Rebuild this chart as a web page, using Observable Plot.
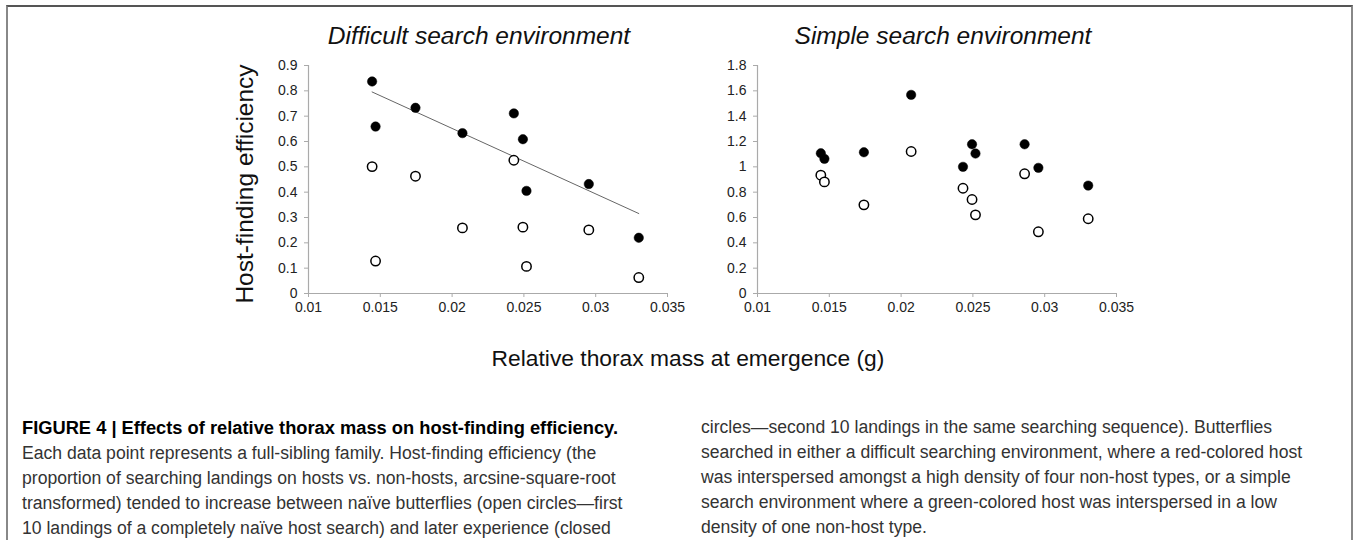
<!DOCTYPE html>
<html>
<head>
<meta charset="utf-8">
<script src="https://cdn.jsdelivr.net/npm/d3@7"></script>
<script src="https://cdn.jsdelivr.net/npm/@observablehq/plot@0.6"></script>
<style>
  html, body { margin: 0; padding: 0; background: #fff; }
  #fig { position: relative; width: 1357px; height: 540px; overflow: hidden; font-family: "Liberation Sans", Arial, sans-serif; }
  #frame { position: absolute; left: 6px; top: 5px; width: 1347px; height: 600px; border-top: 2px solid #555; border-left: 2px solid #888; border-right: 2px solid #888; box-sizing: border-box; }
  .title { position: absolute; width: 420px; margin-left: -210px; text-align: center; font-style: italic; font-size: 24.5px; line-height: 24px; color: #111; white-space: nowrap; }
  #ylab { position: absolute; left: 245px; top: 184px; transform: translate(-50%, -50%) rotate(-90deg); font-size: 24.5px; line-height: 24px; color: #111; white-space: nowrap; }
  #xlab { position: absolute; left: 688px; top: 347px; transform: translateX(-50%); font-size: 22.8px; line-height: 22px; color: #111; white-space: nowrap; }
  .plot { position: absolute; top: 50px; }
  .cap { position: absolute; top: 415px; font-size: 17.6px; line-height: 25px; color: #333; white-space: nowrap; }
  .cap b { color: #000; font-size: 18.3px; }
</style>
</head>
<body>
<div id="fig">
  <div id="frame"></div>
  <div class="title" id="t1"></div>
  <div class="title" id="t2"></div>
  <div id="ylab"></div>
  <div id="xlab"></div>
  <div class="plot" id="p1"></div>
  <div class="plot" id="p2"></div>
  <div class="cap" id="c1"></div>
  <div class="cap" id="c2"></div>
</div>
<script>
// ---- data ----
const titles = ["Difficult search environment", "Simple search environment"];
const yLabel = "Host-finding efficiency";
const xLabel = "Relative thorax mass at emergence (g)";

const massDifficult = [0.01443, 0.01467, 0.01745, 0.02072, 0.0243, 0.02493, 0.02518, 0.02952, 0.033];
const difficultNaive = [0.501, 0.128, 0.463, 0.259, 0.526, 0.262, 0.107, 0.251, 0.063];
const difficultExperienced = [0.837, 0.659, 0.733, 0.633, 0.711, 0.609, 0.405, 0.432, 0.220];

const massSimple = [0.01441, 0.01466, 0.01741, 0.0207, 0.02431, 0.02494, 0.02518, 0.0286, 0.02956, 0.03303];
const simpleNaive = [0.934, 0.881, 0.700, 1.121, 0.831, 0.742, 0.621, 0.945, 0.487, 0.590];
const simpleExperienced = [1.107, 1.063, 1.115, 1.568, 1.000, 1.178, 1.105, 1.178, 0.992, 0.852];

const xTicks = [0.01, 0.015, 0.02, 0.025, 0.03, 0.035];
const yTicksDifficult = [0, 0.1, 0.2, 0.3, 0.4, 0.5, 0.6, 0.7, 0.8, 0.9];
const yTicksSimple = [0, 0.2, 0.4, 0.6, 0.8, 1, 1.2, 1.4, 1.6, 1.8];

const captionLeft = [
  "<b>FIGURE 4 | Effects of relative thorax mass on host-finding efficiency.</b>",
  "Each data point represents a full-sibling family. Host-finding efficiency (the",
  "proportion of searching landings on hosts vs. non-hosts, arcsine-square-root",
  "transformed) tended to increase between naïve butterflies (open circles—first",
  "10 landings of a completely naïve host search) and later experience (closed"
];
const captionRight = [
  "circles—second 10 landings in the same searching sequence). Butterflies",
  "searched in either a difficult searching environment, where a red-colored host",
  "was interspersed amongst a high density of four non-host types, or a simple",
  "search environment where a green-colored host was interspersed in a low",
  "density of one non-host type."
];

// ---- text ----
const t1 = document.getElementById("t1");
t1.textContent = titles[0]; t1.style.left = "479px"; t1.style.top = "24px";
const t2 = document.getElementById("t2");
t2.textContent = titles[1]; t2.style.left = "943px"; t2.style.top = "24px";
document.getElementById("ylab").textContent = yLabel;
document.getElementById("xlab").textContent = xLabel;
const c1 = document.getElementById("c1"); c1.style.left = "22px"; c1.innerHTML = captionLeft.join("<br>");
const c2 = document.getElementById("c2"); c2.style.left = "701px"; c2.innerHTML = captionRight.join("<br>");

// ---- plots ----
const fmt = d3.format("~g");
function panel(mass, naive, experienced, yDomain, yTicks, withTrend) {
  const naiveData = mass.map((m, i) => ({m, v: naive[i]}));
  const expData = mass.map((m, i) => ({m, v: experienced[i]}));
  return Plot.plot({
    width: 430, height: 278,
    marginLeft: 50, marginRight: 21, marginTop: 15, marginBottom: 35,
    style: {fontFamily: "Liberation Sans, Arial, sans-serif", fontSize: "14px", color: "#222", background: "transparent", overflow: "visible"},
    x: {domain: [0.01, 0.035]},
    y: {domain: yDomain},
    marks: [
      Plot.axisX({ticks: xTicks, tickFormat: fmt, tickSize: 4, tickPadding: 5, stroke: "#aaa", label: null}),
      Plot.axisY({ticks: yTicks, tickFormat: fmt, tickSize: 4, tickPadding: 7, stroke: "#aaa", label: null}),
      Plot.ruleY([yDomain[0]], {stroke: "#aaa", strokeWidth: 1.2}),
      Plot.ruleX([0.01], {stroke: "#aaa", strokeWidth: 1.2}),
      withTrend ? Plot.linearRegressionY(expData, {x: "m", y: "v", ci: 0, stroke: "#666", strokeWidth: 1}) : null,
      Plot.dot(naiveData, {x: "m", y: "v", r: 4.7, fill: "#fff", stroke: "#000", strokeWidth: 1.5}),
      Plot.dot(expData, {x: "m", y: "v", r: 4.7, fill: "#000", stroke: "#000", strokeWidth: 0.5})
    ]
  });
}
const p1 = document.getElementById("p1");
p1.style.left = "258px";
p1.append(panel(massDifficult, difficultNaive, difficultExperienced, [0, 0.9], yTicksDifficult, true));
const p2 = document.getElementById("p2");
p2.style.left = "707px";
p2.append(panel(massSimple, simpleNaive, simpleExperienced, [0, 1.8], yTicksSimple, false));
</script>
</body>
</html>
